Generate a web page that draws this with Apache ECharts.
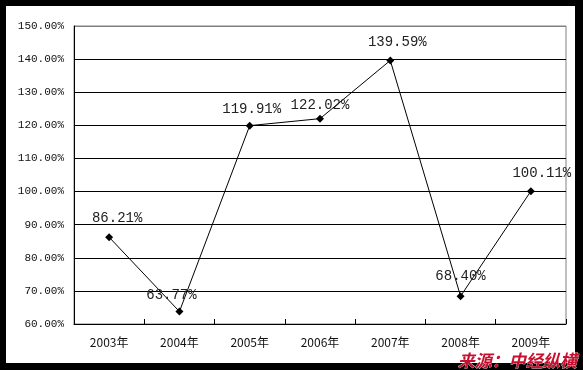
<!DOCTYPE html>
<html><head><meta charset="utf-8">
<script src="https://cdn.jsdelivr.net/npm/echarts@6/dist/echarts.min.js"></script>
<style>
html,body{margin:0;padding:0;background:#000;}
#wrap{position:relative;width:583px;height:370px;background:#000;overflow:hidden;}
#inner{position:absolute;left:6px;top:6px;width:569px;height:357px;background:#fff;}
#chart{position:absolute;left:0;top:0;width:583px;height:370px;}
</style></head>
<body>
<div id="wrap"><div id="inner"></div><div id="chart"></div></div>
<script>
var categories = ['2003年','2004年','2005年','2006年','2007年','2008年','2009年'];
var values = [86.21, 63.77, 119.91, 122.02, 139.59, 68.40, 100.11];
var yMin = 60, yMax = 150, yStep = 10;
var sourceText = '来源：中经纵横';

// label placement tweaks (style only)
var labelOffsets = [[8,-3],[-8,0],[2,0],[0,3],[7,-2],[0,-4],[11,-2]];

var chart = echarts.init(document.getElementById('chart'), null, {renderer:'canvas'});
var splitColors = [];
for (var v = yMin; v <= yMax; v += yStep) splitColors.push(v === yMax ? '#808080' : '#000');

chart.setOption({
  backgroundColor: 'transparent',
  animation: false,
  grid: {left: 74, right: 17, top: 26, bottom: 46, show: true, borderColor: '#808080', borderWidth: 1, backgroundColor: 'transparent'},
  xAxis: {
    type: 'category', data: categories, boundaryGap: true,
    axisLine: {lineStyle: {color: '#000', width: 1}},
    axisTick: {show: true, inside: true, length: 5, lineStyle: {color: '#000'}},
    axisLabel: {color: '#111', fontSize: 12, fontFamily: '"Noto Sans CJK SC", sans-serif', margin: 12}
  },
  yAxis: {
    type: 'value', min: yMin, max: yMax, interval: yStep,
    axisLine: {show: true, lineStyle: {color: '#000', width: 1}},
    axisTick: {show: false},
    splitLine: {show: true, lineStyle: {color: splitColors, width: 1}},
    axisLabel: {color: '#111', fontSize: 11, fontFamily: '"Liberation Mono", monospace', margin: 10,
      formatter: function(v){ return v.toFixed(2) + '%'; }}
  },
  series: [{
    type: 'line',
    data: values.map(function(v, i){
      return {value: v, label: {offset: labelOffsets[i]}};
    }),
    symbol: 'diamond', symbolSize: 8,
    itemStyle: {color: '#000'},
    lineStyle: {color: '#000', width: 1},
    label: {show: true, position: 'top', distance: 5, color: '#222', fontSize: 14,
      fontFamily: '"Liberation Mono", monospace',
      formatter: function(p){ return p.value.toFixed(2) + '%'; }}
  }],
  graphic: [{
    type: 'text', right: 6, bottom: 1, z: 100,
    style: {text: sourceText, fill: '#c8102e', font: 'italic bold 17px "Noto Sans CJK SC"',
      stroke: '#fff', lineWidth: 0.5}
  }]
});
</script>
</body></html>
